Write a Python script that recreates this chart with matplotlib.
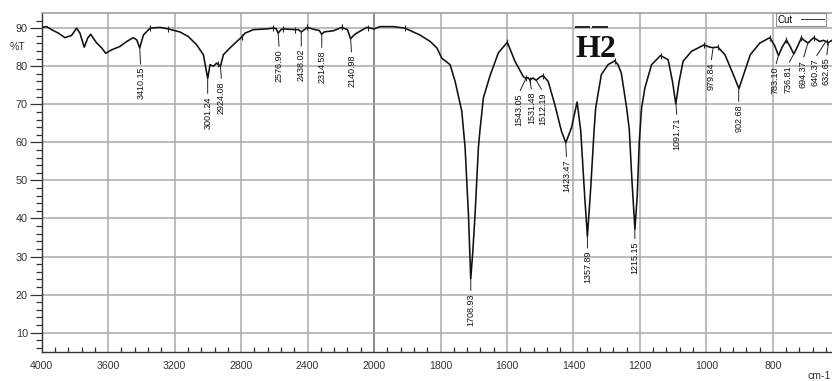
#!/usr/bin/env python3
"""IR spectrum of sample H2 (%T vs wavenumber) with peak picks."""

import numpy as np
import matplotlib
matplotlib.use('Agg')
import matplotlib.pyplot as plt
from matplotlib import font_manager
from matplotlib.lines import Line2D

# Spectrum trace, high to low wavenumber (cm-1) and %T
wavenumber = [
    4000, 3970, 3940, 3900, 3860, 3820, 3790, 3770, 3744, 3723,
    3705, 3690, 3669, 3639, 3615, 3579, 3529, 3488, 3449, 3428,
    3410, 3388, 3348, 3288, 3238, 3168, 3118, 3067, 3027, 3001,
    2987, 2967, 2947, 2924, 2907, 2867, 2826, 2800, 2776, 2726,
    2646, 2610, 2590, 2577, 2560, 2546, 2475, 2455, 2438, 2420,
    2401, 2355, 2330, 2315, 2300, 2285, 2245, 2194, 2160, 2141,
    2120, 2104, 2044, 2020, 2000, 1982, 1942, 1907, 1862, 1831,
    1811, 1796, 1771, 1756, 1736, 1731, 1726, 1716, 1709, 1703,
    1696, 1686, 1681, 1671, 1651, 1626, 1599, 1576, 1551, 1543,
    1537, 1531, 1522, 1512, 1500, 1491, 1476, 1456, 1436, 1423,
    1406, 1389, 1378, 1366, 1358, 1348, 1338, 1333, 1316, 1296,
    1276, 1266, 1256, 1240, 1232, 1224, 1215, 1208, 1202, 1195,
    1185, 1165, 1138, 1115, 1102, 1092, 1082, 1070, 1045, 1007,
    990, 980, 965, 944, 919, 902, 888, 868, 839, 809,
    795, 783, 772, 759, 747, 737, 724, 714, 706, 694,
    686, 677, 668, 659, 648, 640, 633, 622,
]
transmittance = [
    90.2, 90.4, 89.6, 88.7, 87.5, 88.1, 90.0, 88.7, 85.0, 87.4,
    88.4, 87.4, 86.1, 84.8, 83.4, 84.3, 85.2, 86.5, 87.5, 86.9,
    84.8, 88.2, 90.0, 90.2, 89.8, 89.0, 87.8, 85.6, 83.0, 76.8,
    80.4, 80.0, 80.8, 80.0, 83.0, 84.8, 86.5, 87.5, 88.7, 89.6,
    89.8, 90.0, 89.9, 88.7, 89.6, 89.8, 89.6, 89.6, 89.0, 89.6,
    90.2, 89.6, 89.4, 88.4, 89.0, 89.1, 89.3, 90.2, 89.6, 87.2,
    88.2, 88.7, 90.2, 90.0, 89.8, 90.4, 90.4, 90.0, 88.2, 86.5,
    84.8, 82.1, 80.4, 76.0, 68.2, 63.4, 58.6, 41.1, 24.2, 31.0,
    41.1, 58.6, 63.4, 71.7, 77.5, 83.5, 86.3, 81.3, 77.3, 76.8,
    77.0, 76.4, 76.9, 76.3, 77.2, 77.5, 76.0, 69.9, 62.9, 59.9,
    63.8, 70.6, 63.0, 45.6, 35.3, 48.0, 63.0, 69.1, 77.8, 80.4,
    81.4, 80.4, 78.2, 69.1, 63.4, 50.0, 37.2, 46.0, 60.0, 69.0,
    74.3, 80.4, 82.8, 81.7, 76.0, 70.1, 76.0, 81.3, 83.9, 85.6,
    85.0, 84.9, 85.0, 83.0, 77.8, 74.1, 77.8, 83.0, 86.1, 87.5,
    85.5, 82.8, 85.0, 86.9, 85.0, 83.2, 85.5, 87.5, 86.8, 86.1,
    86.8, 87.5, 87.0, 86.5, 86.8, 86.5, 86.2, 86.8,
]

# Picked peak positions (cm-1) that get a label
peak_labels = [3410.15, 3001.24, 2924.08, 2576.90, 2438.02, 2314.58, 2140.98,
               1708.93, 1543.05, 1531.48, 1512.19, 1423.47, 1357.89, 1215.15,
               1091.71, 979.84, 902.68, 783.10, 736.81, 694.37, 640.37, 632.65]
# Label placement relative to the peak, in pixels (dx, dy)
label_offsets = [(1, -19), (0, -18), (1, -15), (1, -16), (0, -17), (0, -16), (1, -16),
                 (0, -15), (-7, -15), (2, -12), (7, -12), (1, -17), (0, -15), (0, -13),
                 (1, -14), (-2, -15), (0, -16), (-3, -11), (-6, -11), (-5, -17),
                 (-11, -17), (-2, -15)]

# Small tick marks the instrument draws on the band maxima
maxima_ticks = [3348, 3238, 2937, 2796, 2610, 2546, 2475, 2401, 2194, 2034, 1907,
                1599, 1543, 1531, 1491, 1276, 1138, 1007, 965, 809, 759, 714, 677, 636]

names = {f.name for f in font_manager.fontManager.ttflist}
if 'Liberation Sans Narrow' in names:
    LABEL_FONT, LABEL_SIZE = 'Liberation Sans Narrow', 7.8
else:
    LABEL_FONT, LABEL_SIZE = 'Liberation Sans', 6.5
plt.rcParams['font.family'] = ['Liberation Sans', 'DejaVu Sans']


def fwd(x):
    # wavenumbers above 2000 are drawn at half scale
    x = np.asarray(x, dtype=float)
    return np.where(x > 2000, 2000 + (x - 2000) / 2, x)


def inv(u):
    u = np.asarray(u, dtype=float)
    return np.where(u > 2000, 2000 + (u - 2000) * 2, u)


W, H = 832, 381
fig = plt.figure(figsize=(W / 100, H / 100), dpi=100)
ax = fig.add_axes([41.7 / W, 1 - 351.7 / H, 1 - 41.7 / W, 338.4 / H])

ax.set_xscale('function', functions=(fwd, inv))
ax.set_xlim(4000, 622)
ax.set_ylim(5, 93.9)

# grid
major_x = [3600, 3200, 2800, 2400, 1800, 1600, 1400, 1200, 1000, 800]
for xv in major_x:
    ax.axvline(xv, color='#a9a9a9', lw=1.1, zorder=0)
ax.axvline(2000, color='#777777', lw=1.2, zorder=0)
for yv in range(10, 100, 10):
    ax.axhline(yv, color='#a9a9a9', lw=1.1, zorder=0)

# spectrum
ax.plot(wavenumber, transmittance, color='#111111', lw=1.15, zorder=3)

wn_asc = np.array(wavenumber[::-1], dtype=float)
t_asc = np.array(transmittance[::-1], dtype=float)

tick_y = np.interp(maxima_ticks, wn_asc, t_asc)
ax.plot(maxima_ticks, tick_y, ls='none', marker='|', ms=5, mew=0.8,
        color='#222222', zorder=4)

for peak, (dx, dy) in zip(peak_labels, label_offsets):
    ty = np.interp(peak, wn_asc, t_asc)
    ax.annotate(f'{peak:.2f}', xy=(peak, ty), xytext=(dx * 0.72, dy * 0.72),
                textcoords='offset points', rotation=90, ha='center', va='top',
                fontsize=LABEL_SIZE, family=LABEL_FONT, color='#111111',
                arrowprops=dict(arrowstyle='-', lw=0.7, color='#222222',
                                shrinkA=0, shrinkB=0, relpos=(0.5, 1.0)),
                zorder=5)

# axes
xticks = [4000, 3600, 3200, 2800, 2400, 2000, 1800, 1600, 1400, 1200, 1000, 800]
ax.set_xticks(xticks)
ax.set_xticklabels([str(v) for v in xticks])
minor_x = list(range(2080, 4000, 80)) + list(range(640, 2000, 40))
ax.set_xticks(minor_x, minor=True)
ax.set_yticks(range(10, 100, 10))
ax.set_yticks(range(6, 94, 2), minor=True)

ax.tick_params(axis='x', which='major', direction='in', length=0, pad=7,
               labelsize=7.6, labelcolor='#333333')
ax.tick_params(axis='x', which='minor', direction='in', length=3.5, width=0.9,
               color='#333333')
ax.tick_params(axis='y', which='major', direction='out', length=9, width=0.9,
               pad=1, labelsize=7.8, labelcolor='#333333', color='#333333')
ax.tick_params(axis='y', which='minor', direction='out', length=4.5, width=0.9,
               color='#333333')

ax.spines['right'].set_visible(False)
ax.spines['top'].set_color('#9a9a9a')
ax.spines['top'].set_linewidth(1.1)
for side in ('left', 'bottom'):
    ax.spines[side].set_color('#333333')
    ax.spines[side].set_linewidth(1.0)

leg = ax.legend(handles=[Line2D([], [], color='#333333', lw=0.7)], labels=['Cut'],
                loc='upper right', bbox_to_anchor=(0.992, 1.0), markerfirst=False,
                fontsize=7, frameon=True, fancybox=False, borderpad=0.15,
                handlelength=2.4, handletextpad=0.9, borderaxespad=0)
leg.get_frame().set_edgecolor('#777777')
leg.get_frame().set_linewidth(0.8)

# texts around the frame
fig.text(10 / W, 1 - 47 / H, '%T', fontsize=7.6, color='#333333', va='center')
fig.text(808 / W, 1 - 376 / H, 'cm-1', fontsize=7.6, color='#333333', va='center')
fig.text(576 / W, 1 - 56.7 / H, 'H2', fontsize=23, fontweight='bold',
         family='Liberation Serif', color='#111111', va='baseline', ha='left')
for x0, x1 in ((576, 589), (593, 607)):
    fig.add_artist(Line2D([x0 / W, x1 / W], [1 - 27.3 / H] * 2,
                          color='#222222', lw=1.4))

fig.savefig('out.png', dpi=100)
